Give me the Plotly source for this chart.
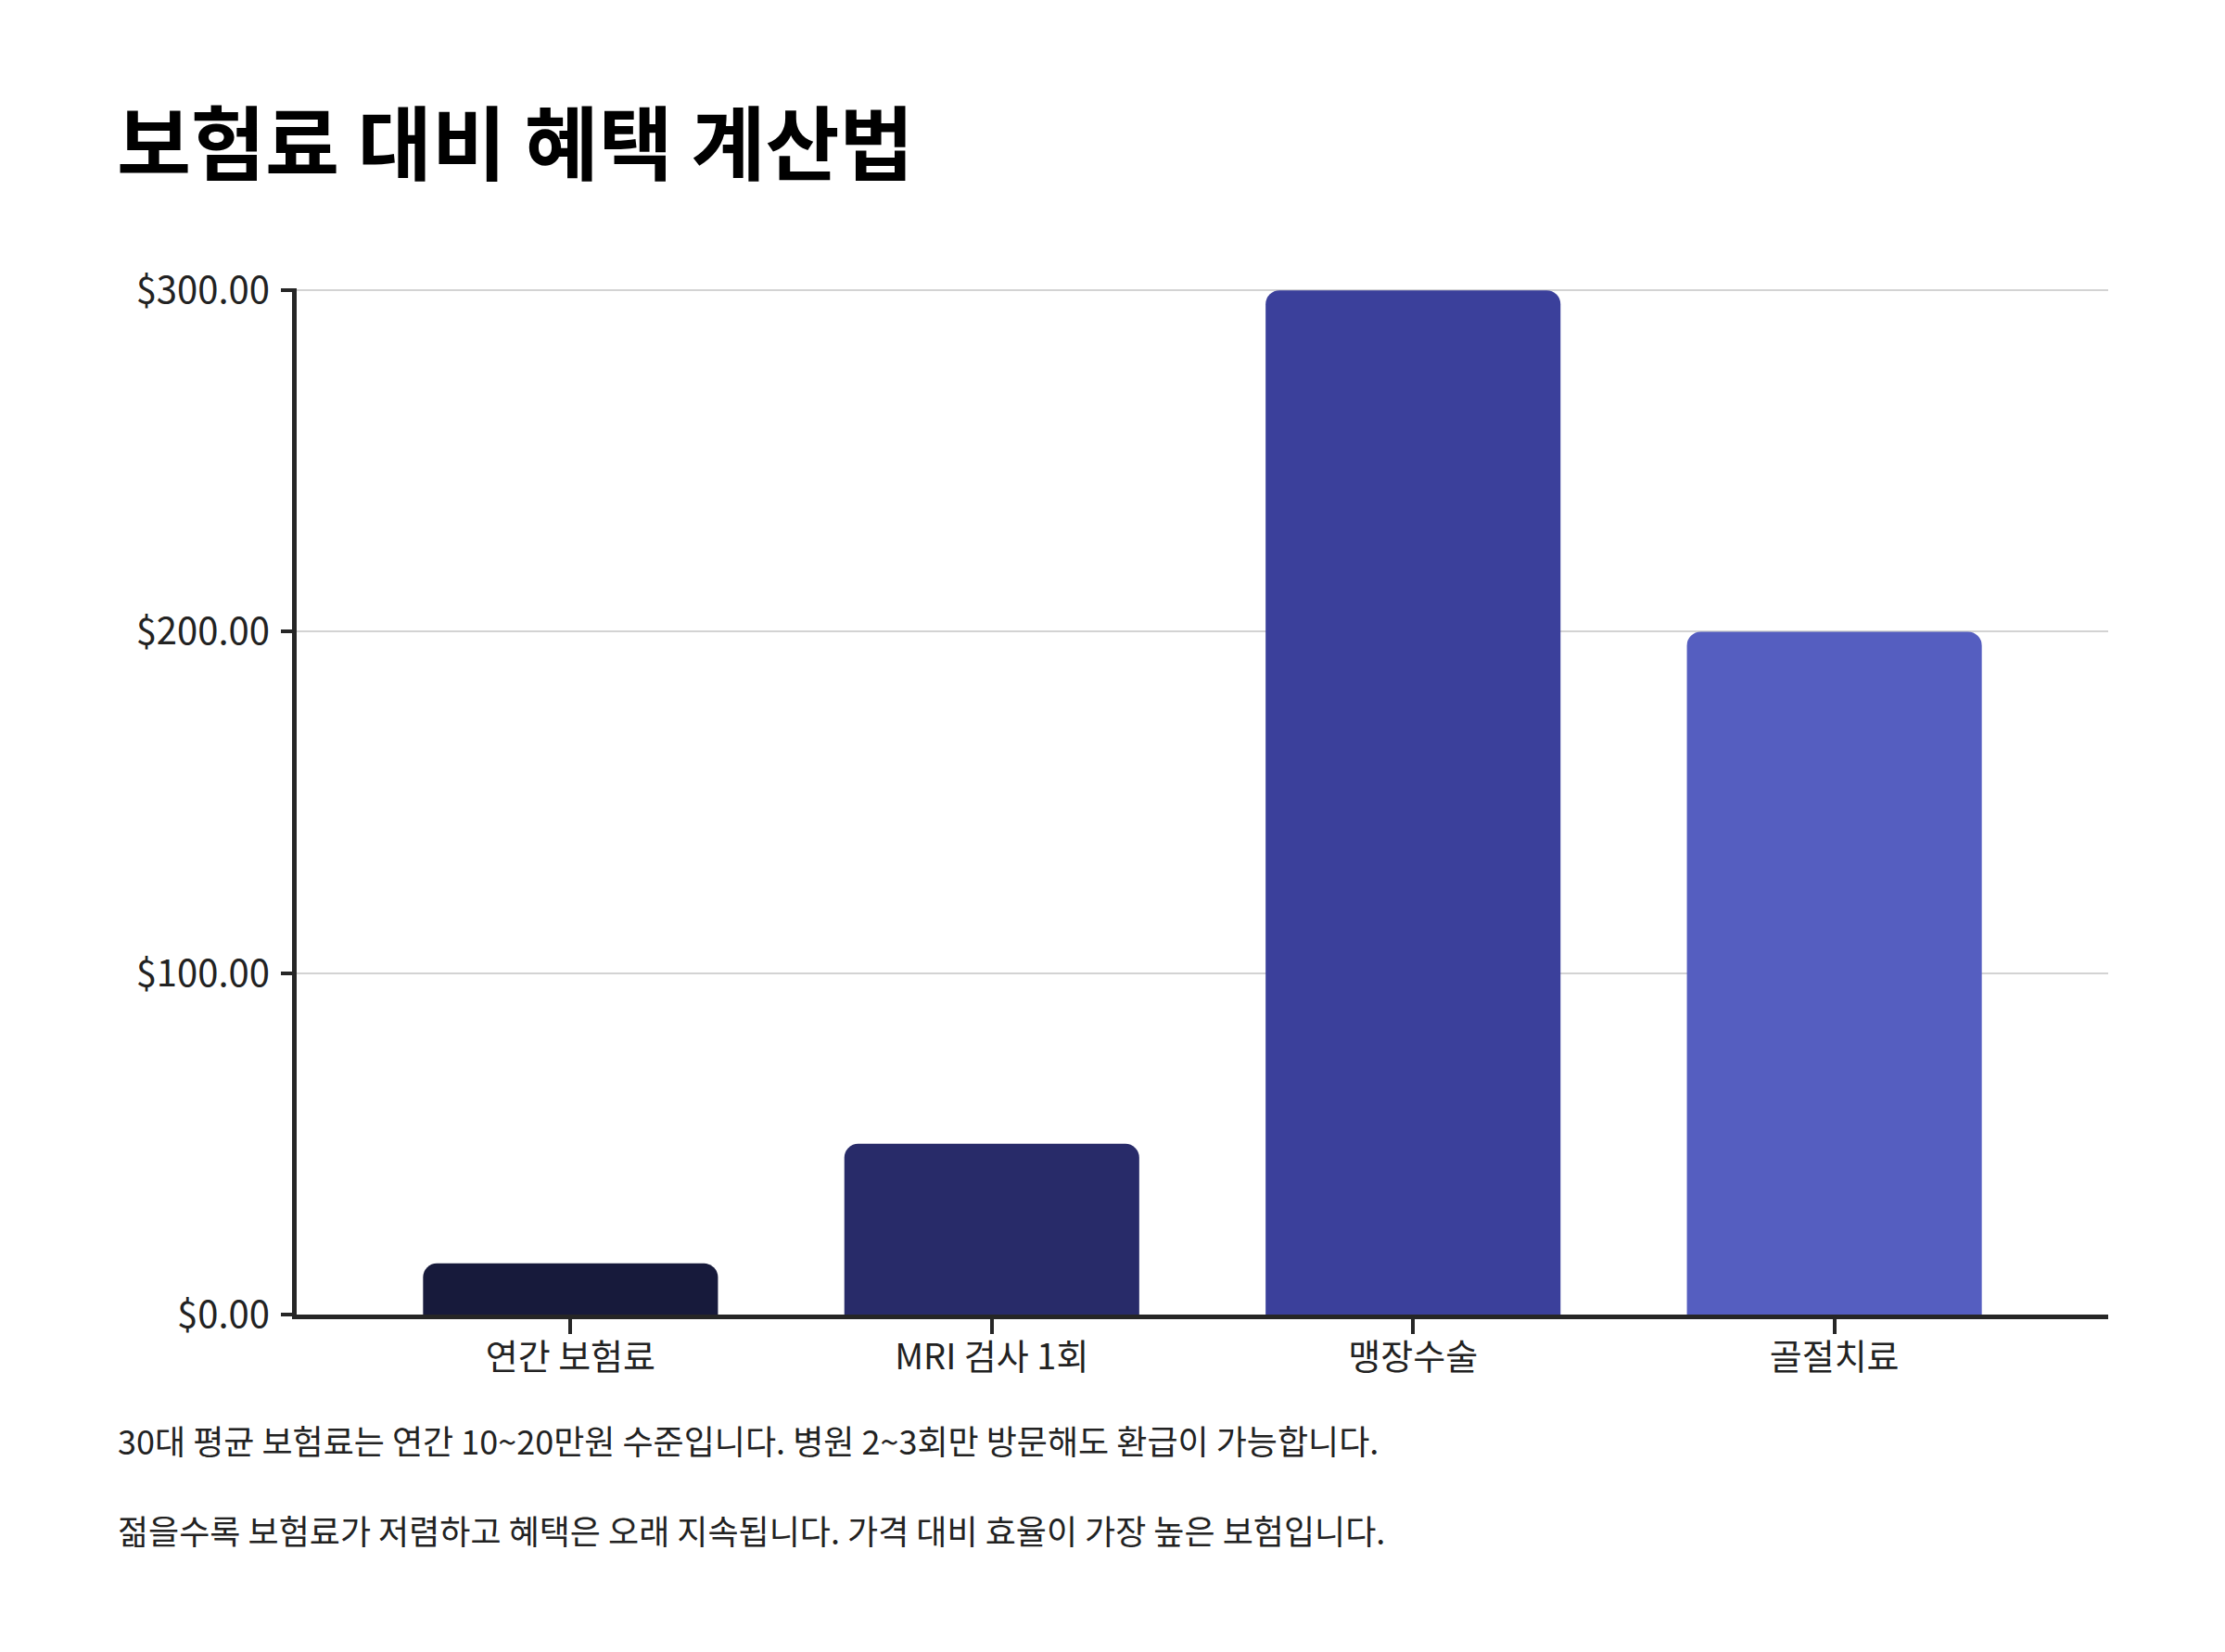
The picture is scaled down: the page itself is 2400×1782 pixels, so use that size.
import plotly.graph_objects as go

# data
categories = ["연간 보험료", "MRI 검사 1회", "맹장수술", "골절치료"]
values = [15, 50, 300, 200]
bar_colors = ["#171a3b", "#282b69", "#3b409b", "#555ec0"]
y_ticks = [0, 100, 200, 300]
y_tick_labels = ["$0.00", "$100.00", "$200.00", "$300.00"]
notes = [
    "30대 평균 보험료는 연간 10~20만원 수준입니다. 병원 2~3회만 방문해도 환급이 가능합니다.",
    "젊을수록 보험료가 저렴하고 혜택은 오래 지속됩니다. 가격 대비 효율이 가장 높은 보험입니다.",
]

font_family = "Noto Sans CJK KR"
ink = "#222222"

W, H = 2400, 1782
L, R, T, B = 312, 134, 303, 372
pw, ph = W - L - R, H - T - B

fig = go.Figure()
fig.add_trace(go.Bar(
    x=categories,
    y=values,
    width=0.7,
    marker=dict(color=bar_colors, cornerradius=15, line=dict(width=0)),
    hoverinfo="x+y",
))

fig.update_layout(
    width=W,
    height=H,
    paper_bgcolor="white",
    plot_bgcolor="white",
    showlegend=False,
    font=dict(family=font_family, size=38, color=ink),
    margin=dict(l=L, r=R, t=T, b=B, autoexpand=False),
    title=dict(
        text="<b>보험료 대비 혜택 계산법</b>",
        x=118 / W, xref="container", xanchor="left",
        y=1 - 150 / H, yref="container", yanchor="middle",
        font=dict(family=font_family, size=87, color="#000000"),
    ),
)

fig.update_xaxes(
    range=[-0.65, 3.65],
    showline=True, linecolor="#262626", linewidth=5,
    ticks="outside", ticklen=16, tickwidth=4, tickcolor="#262626",
    ticklabelstandoff=-8,
    tickfont=dict(size=38, color=ink),
    showgrid=False, zeroline=False,
)
fig.update_yaxes(
    range=[0, 300.6],
    tickvals=y_ticks, ticktext=y_tick_labels,
    showline=True, linecolor="#262626", linewidth=5,
    ticks="outside", ticklen=12, tickwidth=4, tickcolor="#262626",
    ticklabelstandoff=4,
    tickfont=dict(size=40, color=ink),
    showgrid=True, gridcolor="#d3d3d3", gridwidth=2,
    zeroline=False,
)

for i, line in enumerate(notes):
    fig.add_annotation(
        text=line,
        xref="paper", yref="paper",
        x=(117 - L) / pw, y=-(1545 + i * 97 - (T + ph)) / ph,
        xanchor="left", yanchor="middle",
        showarrow=False,
        font=dict(family=font_family, size=36, color=ink),
    )

fig.write_html("out.html")
